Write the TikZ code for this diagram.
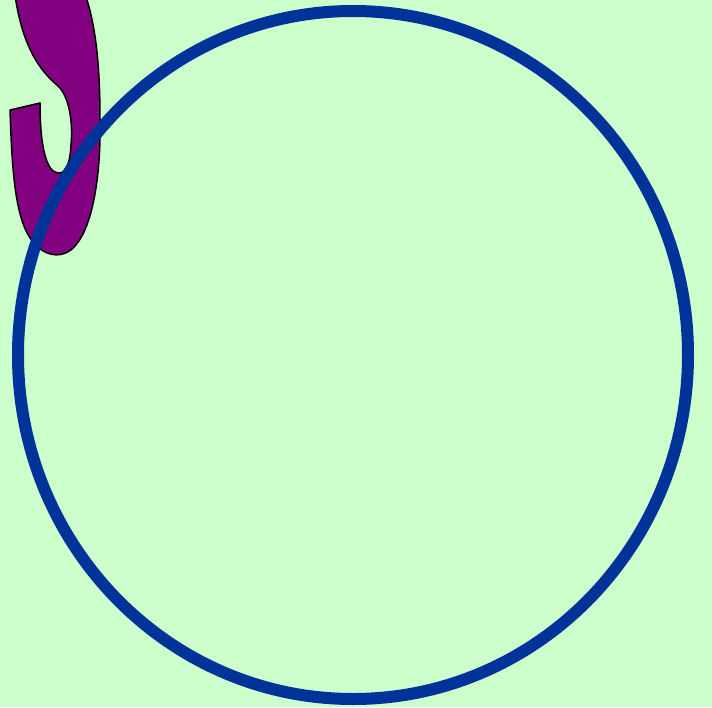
\documentclass[tikz,border=0pt]{standalone}
\usepackage{tikz}
\usepackage{xcolor}
\definecolor{paleGreen}{HTML}{CCFFCC}
\definecolor{ringBlue}{HTML}{003399}
\definecolor{hookPurple}{HTML}{800080}

\begin{document}
\begin{tikzpicture}[
  x=1pt,y=-1pt,
  ring/.style={draw=ringBlue, line width=12pt},
  hook/.style={fill=hookPurple, draw=black, line width=1.5pt, line join=round}
]
  \useasboundingbox (0,0) rectangle (712,707);
  \clip (0,0) rectangle (712,707);
  \fill[paleGreen] (0,0) rectangle (712,707);

  % purple glyph, cut by the top edge
  \path[hook] (14,-12) .. controls (20,35) and (33,65) .. (58,86)
    .. controls (70,97) and (73,125) .. (71,145)
    .. controls (70,165) and (65,174) .. (58,173)
    .. controls (46,172) and (40,145) .. (40,103)
    -- (10,110)
    .. controls (12,165) and (14,225) .. (36,245)
    .. controls (48,258) and (65,258) .. (75,246)
    .. controls (94,225) and (101,170) .. (100,120)
    .. controls (100,60) and (95,20) .. (83,-12)
    -- cycle;

  % big ring
  \draw[ring] (353,355) ellipse[x radius=335, y radius=344];
\end{tikzpicture}
\end{document}
